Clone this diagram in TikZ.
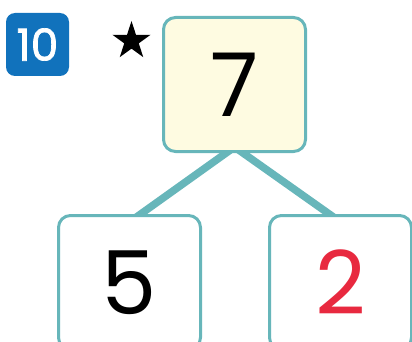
\documentclass[tikz,border=0pt]{standalone}
\usepackage{fontspec}
\setmainfont{Poppins}
\newfontfamily\badgefont{Poppins}[FakeBold=1.6]
\usetikzlibrary{shapes.geometric}
\definecolor{teal1}{HTML}{67B6BA}
\definecolor{cream}{HTML}{FEFBE1}
\definecolor{blue1}{HTML}{1172BC}
\definecolor{red1}{HTML}{E8293F}
\begin{document}
\begin{tikzpicture}[x=1pt,y=-1pt,
  numbox/.style={draw=teal1,line width=3pt,rounded corners=12pt,minimum width=142pt,minimum height=134pt,inner sep=0pt,font=\fontsize{88}{88}\selectfont},
  link/.style={draw=teal1,line width=7.5pt}]
\useasboundingbox (0,0) rectangle (412,342);
\clip (0,0) rectangle (412,342);
\coordinate (j) at (234.5,147);
\coordinate (la) at (129.5,222);
\coordinate (ra) at (340.5,222);
\draw[link] (j) -- (la);
\draw[link] (j) -- (ra);
\node[numbox,fill=cream] (top) at (234.5,84.5) {7};
\node[numbox,fill=white] (left) at (129.5,282.5) {5};
\node[numbox,fill=white,text=red1] (right) at (340.5,282.5) {2};
\node[fill=blue1,rounded corners=9pt,minimum width=63pt,minimum height=63pt,inner sep=0pt,text=white,font=\badgefont\fontsize{44}{44}\selectfont] (badge) at (37.5,44.5) {10};
\node[star,star points=5,star point ratio=2.618,fill=black,minimum size=40pt,inner sep=0pt] (star) at (131.5,41) {};
\end{tikzpicture}
\end{document}
